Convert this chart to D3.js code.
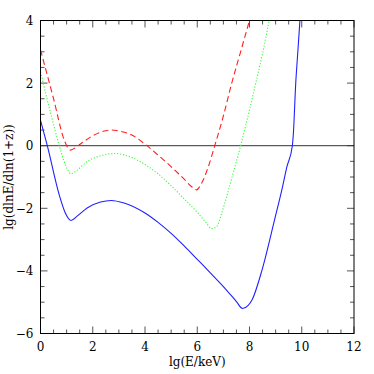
<!DOCTYPE html>
<html>
<head>
<meta charset="utf-8">
<script src="https://cdn.jsdelivr.net/npm/d3@7"></script>
<style>
body { margin: 0; background: #fff; }
text { font-family: "DejaVu Serif", serif; }
</style>
</head>
<body>
<script>
// lg(E/keV) and lg(dlnE/dln(1+z))
var redX = [0, 0.5, 0.9, 1.05, 1.15, 1.3, 1.6, 2.0, 2.4, 2.7, 3.0, 3.5, 4.0, 4.5, 5.0, 5.5, 5.8, 5.97, 6.16, 6.42, 6.67, 7.0, 7.32, 7.66, 8.0];
var redY = [3.06, 1.5, 0.2, -0.07, -0.14, -0.08, 0.1, 0.32, 0.46, 0.5, 0.47, 0.34, 0.05, -0.3, -0.67, -1.07, -1.32, -1.41, -1.21, -0.68, 0.0, 0.95, 2.0, 3.0, 4.0];

var greenX = [0, 0.4, 0.72, 0.95, 1.17, 1.4, 1.8, 2.3, 2.85, 3.5, 4.0, 4.5, 5.0, 5.5, 6.0, 6.35, 6.55, 6.74, 6.93, 7.12, 7.37, 7.66, 8.0, 8.24, 8.5, 8.75];
var greenY = [2.36, 1.0, 0.0, -0.6, -0.9, -0.78, -0.5, -0.32, -0.25, -0.38, -0.6, -0.9, -1.28, -1.7, -2.13, -2.47, -2.65, -2.59, -2.17, -1.64, -0.89, 0.0, 1.15, 2.0, 2.95, 4.0];

var blueX = [0, 0.26, 0.72, 0.95, 1.17, 1.4, 1.8, 2.3, 2.7, 3.2, 4.0, 4.5, 5.0, 5.5, 6.0, 6.5, 7.0, 7.5, 7.73, 7.95, 8.1, 8.47, 8.95, 9.26, 9.43, 9.64, 9.68, 9.77, 9.85, 9.93];
var blueY = [0.81, 0, -1.58, -2.15, -2.39, -2.25, -1.98, -1.8, -1.75, -1.83, -2.15, -2.45, -2.8, -3.2, -3.63, -4.06, -4.5, -4.98, -5.2, -5.1, -4.92, -4.0, -2.4, -1.33, -0.68, 0.0, 0.4, 2.0, 3.0, 4.0];

var xTicks = [0, 2, 4, 6, 8, 10, 12];
var yTicks = [-6, -4, -2, 0, 2, 4];

var W = 374, H = 374;
var pL = 40.5, pR = 354, pT = 20.5, pB = 333.5;

var x = d3.scaleLinear().domain([0, 12]).range([pL, pR]);
var y = d3.scaleLinear().domain([-6, 4]).range([pB, pT]);

var svg = d3.select('body').append('svg')
    .attr('width', W)
    .attr('height', H);

svg.append('defs').append('clipPath').attr('id', 'clip')
    .append('rect')
    .attr('x', pL).attr('y', pT)
    .attr('width', pR - pL).attr('height', pB - pT);

var minorX = d3.range(0, 12.01, 0.5);
var minorY = d3.range(-6, 4.01, 0.5);

var ticks = svg.append('g').attr('stroke', '#555').attr('stroke-width', 1);
minorX.forEach(function(v) {
    var len = (v % 2 === 0) ? 7 : 4;
    ticks.append('line').attr('x1', x(v)).attr('x2', x(v)).attr('y1', pB).attr('y2', pB - len);
    ticks.append('line').attr('x1', x(v)).attr('x2', x(v)).attr('y1', pT).attr('y2', pT + len);
});
minorY.forEach(function(v) {
    var len = (Math.abs(v) % 2 === 0) ? 7 : 4;
    ticks.append('line').attr('y1', y(v)).attr('y2', y(v)).attr('x1', pL).attr('x2', pL + len);
    ticks.append('line').attr('y1', y(v)).attr('y2', y(v)).attr('x1', pR).attr('x2', pR - len);
});

// zero line
svg.append('line')
    .attr('x1', pL).attr('x2', pR)
    .attr('y1', y(0)).attr('y2', y(0))
    .attr('stroke', '#333').attr('stroke-width', 1);

function mk(xs, ys) { return xs.map(function(d, i) { return [d, ys[i]]; }); }

var line = d3.line()
    .x(function(d) { return x(d[0]); })
    .y(function(d) { return y(d[1]); })
    .curve(d3.curveMonotoneX);

var curves = svg.append('g').attr('clip-path', 'url(#clip)');
curves.append('path').datum(mk(blueX, blueY))
    .attr('d', line).attr('fill', 'none')
    .attr('stroke', '#2020ff').attr('stroke-width', 1.1);
curves.append('path').datum(mk(greenX, greenY))
    .attr('d', line).attr('fill', 'none')
    .attr('stroke', '#33ff33').attr('stroke-width', 1.1)
    .attr('stroke-dasharray', '1.2,1.8');
curves.append('path').datum(mk(redX, redY))
    .attr('d', line).attr('fill', 'none')
    .attr('stroke', '#ff2020').attr('stroke-width', 1.1)
    .attr('stroke-dasharray', '6,3.5');

// frame
svg.append('rect')
    .attr('x', pL).attr('y', pT)
    .attr('width', pR - pL).attr('height', pB - pT)
    .attr('fill', 'none').attr('stroke', '#000').attr('stroke-width', 1);

svg.append('g').selectAll('text')
    .data(xTicks)
    .enter().append('text')
    .attr('x', function(d) { return x(d); })
    .attr('y', pB + 17)
    .attr('text-anchor', 'middle')
    .attr('font-size', 12)
    .text(function(d) { return d; });

svg.append('g').selectAll('text')
    .data(yTicks)
    .enter().append('text')
    .attr('x', pL - 7)
    .attr('y', function(d) { return y(d) + 4.5; })
    .attr('text-anchor', 'end')
    .attr('font-size', 12)
    .text(function(d) { return d < 0 ? '\u2212' + (-d) : d; });

svg.append('text')
    .attr('x', (pL + pR) / 2)
    .attr('y', 366)
    .attr('text-anchor', 'middle')
    .attr('font-size', 12)
    .text('lg(E/keV)');

svg.append('text')
    .attr('transform', 'translate(13,' + ((pT + pB) / 2) + ') rotate(-90)')
    .attr('text-anchor', 'middle')
    .attr('font-size', 12)
    .text('lg(dlnE/dln(1+z))');
</script>
</body>
</html>
